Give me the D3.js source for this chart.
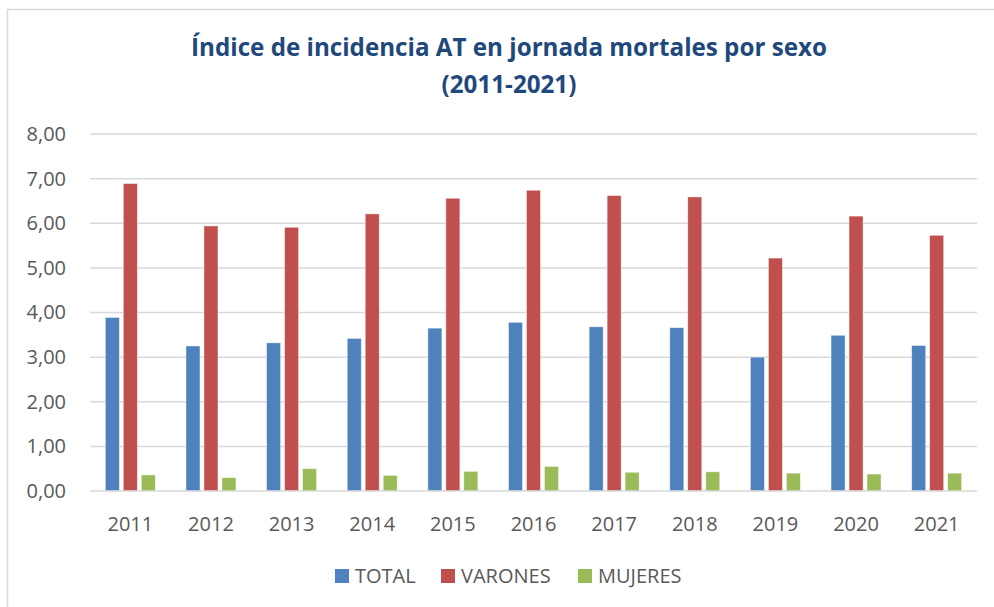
<!DOCTYPE html>
<html>
<head>
<meta charset="utf-8">
<script src="https://cdn.jsdelivr.net/npm/d3@7"></script>
<style>
  body { margin: 0; background: #fff; }
  text { font-family: "Open Sans", "Noto Sans", sans-serif; }
</style>
</head>
<body>
<svg id="chart" width="994" height="607"></svg>
<script>
// chart data
var years = ['2011', '2012', '2013', '2014', '2015', '2016', '2017', '2018', '2019', '2020', '2021'];
var seriesNames = ['TOTAL', 'VARONES', 'MUJERES'];
var total   = [3.89, 3.25, 3.32, 3.42, 3.65, 3.78, 3.68, 3.66, 3.00, 3.49, 3.26];
var varones = [6.89, 5.94, 5.91, 6.21, 6.56, 6.74, 6.62, 6.59, 5.22, 6.16, 5.73];
var mujeres = [0.36, 0.30, 0.50, 0.35, 0.44, 0.55, 0.42, 0.43, 0.40, 0.38, 0.40];
var yTicks = [0, 1, 2, 3, 4, 5, 6, 7, 8];
var titleLines = ['Índice de incidencia AT en jornada mortales por sexo', '(2011-2021)'];

var colors = ['#4F81BD', '#C0504D', '#9BBB59'];
var values = [total, varones, mujeres];

var svg = d3.select('#chart');
var margin = {left: 90, right: 17, top: 134, bottom: 116};
var width = 994 - margin.left - margin.right;
var height = 607 - margin.top - margin.bottom;

// outer frame (only left and top edges are visible in the crop)
svg.append('rect')
  .attr('x', 7.5).attr('y', 9.5)
  .attr('width', 1000).attr('height', 620)
  .attr('fill', 'none')
  .attr('stroke', '#D9D9D9')
  .attr('stroke-width', 1.5);

var x = d3.scaleBand().domain(years).range([0, width]).paddingInner(0.38).paddingOuter(0.19);
var x1 = d3.scaleBand().domain(seriesNames).range([0, x.bandwidth()]).paddingInner(0.22);
var y = d3.scaleLinear().domain([0, 8]).range([height, 0]);

var g = svg.append('g').attr('transform', 'translate(' + margin.left + ',' + margin.top + ')');

// gridlines
g.append('g')
  .selectAll('line')
  .data(yTicks.slice(1))
  .enter().append('line')
  .attr('x1', 0).attr('x2', width)
  .attr('y1', function(d) { return y(d); })
  .attr('y2', function(d) { return y(d); })
  .attr('stroke', '#D9D9D9')
  .attr('stroke-width', 1.5);

// y axis labels
var yAxis = g.append('g')
  .call(d3.axisLeft(y).tickValues(yTicks).tickSize(0).tickPadding(24)
    .tickFormat(function(d) { return d3.format('.2f')(d).replace('.', ','); }));
yAxis.select('.domain').remove();
yAxis.selectAll('text')
  .attr('fill', '#595959')
  .style('font-size', '20px');

// bars
var groups = g.append('g')
  .selectAll('g')
  .data(years)
  .enter().append('g')
  .attr('transform', function(d) { return 'translate(' + x(d) + ',0)'; });

groups.selectAll('rect')
  .data(function(d, i) {
    return seriesNames.map(function(s, k) { return {series: s, k: k, value: values[k][i]}; });
  })
  .enter().append('rect')
  .attr('x', function(d) { return x1(d.series); })
  .attr('width', x1.bandwidth())
  .attr('y', function(d) { return y(d.value); })
  .attr('height', function(d) { return height - y(d.value); })
  .attr('fill', function(d) { return colors[d.k]; })
  .attr('stroke', '#fff')
  .attr('stroke-opacity', 0.6)
  .attr('stroke-width', 0.75);

// x axis
var xAxis = g.append('g')
  .attr('transform', 'translate(0,' + height + ')')
  .call(d3.axisBottom(x).tickSize(0).tickPadding(26));
xAxis.select('.domain')
  .attr('stroke', '#D9D9D9')
  .attr('stroke-width', 1.5)
  .attr('d', 'M0,0H' + width);
xAxis.selectAll('text')
  .attr('fill', '#595959')
  .style('font-size', '20px');

// title
svg.append('g')
  .selectAll('text')
  .data(titleLines)
  .enter().append('text')
  .attr('x', 509)
  .attr('y', function(d, i) { return 56 + i * 37; })
  .attr('text-anchor', 'middle')
  .attr('fill', '#1F497D')
  .style('font-weight', 'bold')
  .style('font-size', '24.2px')
  .text(function(d) { return d; });

// legend
var legendX = [335, 441, 578];
var legend = svg.append('g')
  .selectAll('g')
  .data(seriesNames)
  .enter().append('g')
  .attr('transform', function(d, i) { return 'translate(' + legendX[i] + ',569)'; });
legend.append('rect')
  .attr('width', 14).attr('height', 14)
  .attr('fill', function(d, i) { return colors[i]; });
legend.append('text')
  .attr('x', 20).attr('y', 7)
  .attr('dy', '0.35em')
  .attr('fill', '#595959')
  .style('font-size', '20px')
  .text(function(d) { return d; });
</script>
</body>
</html>
